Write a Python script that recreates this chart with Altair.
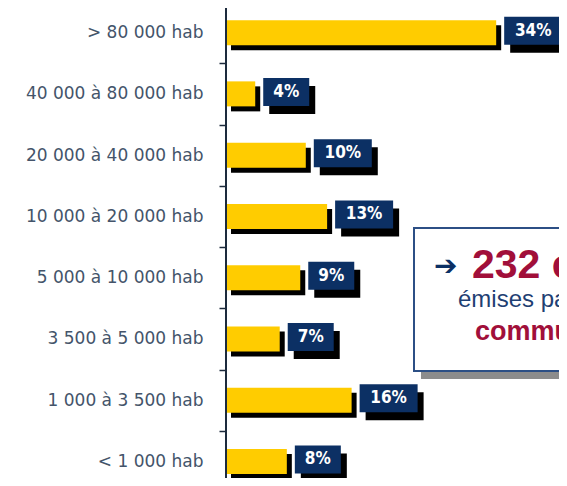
import altair as alt
import pandas as pd

# ---- data ----
categories = [
    "> 80 000 hab",
    "40 000 à 80 000 hab",
    "20 000 à 40 000 hab",
    "10 000 à 20 000 hab",
    "5 000 à 10 000 hab",
    "3 500 à 5 000 hab",
    "1 000 à 3 500 hab",
    "< 1 000 hab",
]
values = [34.2, 3.7, 10.1, 12.8, 9.4, 6.8, 15.9, 7.7]
labels = ["34%", "4%", "10%", "13%", "9%", "7%", "16%", "8%"]

callout_arrow = ["➔"]
callout_big = ["232 collectivités"]
callout_mid = ["émises par les"]
callout_bold = ["communes"]

df = pd.DataFrame({"cat": categories, "value": values, "label": labels})

YELLOW = "#FFCC00"
NAVY = "#0c3064"
AXIS_COL = "#1d2b3d"
RED = "#a10f3a"
BLUE_TXT = "#1f3f73"

y_enc = alt.Y(
    "cat:N",
    sort=categories,
    scale=alt.Scale(paddingInner=0, paddingOuter=0),
    axis=alt.Axis(
        title=None,
        domain=False,
        tickBand="extent",
        tickSize=7,
        tickWidth=1.5,
        tickColor=AXIS_COL,
        labelFont="DejaVu Sans",
        labelFontSize=17,
        labelColor="#44546a",
        labelPadding=16,
    ),
)
x_scale = alt.Scale(domain=[0, 40], nice=False)
x_enc = alt.X("value:Q", scale=x_scale, axis=None)

base = alt.Chart(df).encode(y=y_enc)

bar_shadow = base.mark_bar(color="black", size=25, xOffset=5, x2Offset=5, yOffset=5).encode(x=x_enc)
bar = base.mark_bar(color=YELLOW, size=25).encode(x=x_enc)

GAP = 8
layers = [bar_shadow, bar]
for W, cond in [(46, "length(datum.label) <= 2"), (58, "length(datum.label) > 2")]:
    b = base.transform_filter(cond)
    layers.append(
        b.mark_bar(color="black", size=28, xOffset=GAP + 6, x2Offset=GAP + W + 6, yOffset=6)
        .encode(x=x_enc, x2="value:Q")
    )
    layers.append(
        b.mark_bar(color=NAVY, size=28, xOffset=GAP, x2Offset=GAP + W, yOffset=-2)
        .encode(x=x_enc, x2="value:Q")
    )
    layers.append(
        b.mark_text(
            color="white",
            font="DejaVu Sans Condensed, DejaVu Sans",
            fontWeight="bold",
            fontSize=17,
            align="center",
            baseline="middle",
            xOffset=GAP + W / 2,
            dy=-2,
        ).encode(x=x_enc, text="label:N")
    )

axis_line = (
    alt.Chart(pd.DataFrame({"v": [0]}))
    .mark_rule(color=AXIS_COL, strokeWidth=2)
    .encode(x=alt.X("v:Q", scale=x_scale))
)
layers.append(axis_line)

# ---- callout box (annotation, pixel positioned relative to plot origin) ----
one = pd.DataFrame({"k": [0]})
callout_shadow = alt.Chart(one).mark_rect(fill="#8c8c8c").encode(
    x=alt.value(195), x2=alt.value(600), y=alt.value(232), y2=alt.value(377)
)
callout_box = alt.Chart(one).mark_rect(fill="white", stroke="#2c4f85", strokeWidth=2).encode(
    x=alt.value(188), x2=alt.value(600), y=alt.value(226), y2=alt.value(369)
)
t_arrow = alt.Chart(pd.DataFrame({"t": callout_arrow})).mark_text(
    font="DejaVu Sans", fontSize=28, color=NAVY, align="left", baseline="middle"
).encode(x=alt.value(208), y=alt.value(265), text="t:N")
t_big = alt.Chart(pd.DataFrame({"t": callout_big})).mark_text(
    font="Liberation Sans", fontSize=41, fontWeight="bold", color=RED, align="left", baseline="alphabetic"
).encode(x=alt.value(246), y=alt.value(276), text="t:N")
t_mid = alt.Chart(pd.DataFrame({"t": callout_mid})).mark_text(
    font="Liberation Sans", fontSize=24, color=BLUE_TXT, align="left", baseline="alphabetic"
).encode(x=alt.value(232), y=alt.value(305), text="t:N")
t_bold = alt.Chart(pd.DataFrame({"t": callout_bold})).mark_text(
    font="Liberation Sans", fontSize=27, fontWeight="bold", color=RED, align="left", baseline="alphabetic"
).encode(x=alt.value(249), y=alt.value(338), text="t:N")

layers += [callout_shadow, callout_box, t_arrow, t_big, t_mid, t_bold]

chart = (
    alt.layer(*layers)
    .properties(
        width=316,
        height=490,
        autosize=alt.AutoSizeParams(type="none"),
        padding={"left": 218, "top": -6, "right": 17, "bottom": -14},
        background="white",
    )
    .configure_view(stroke=None)
)

chart.save("out.html", embed_options={"renderer": "svg", "actions": False})
